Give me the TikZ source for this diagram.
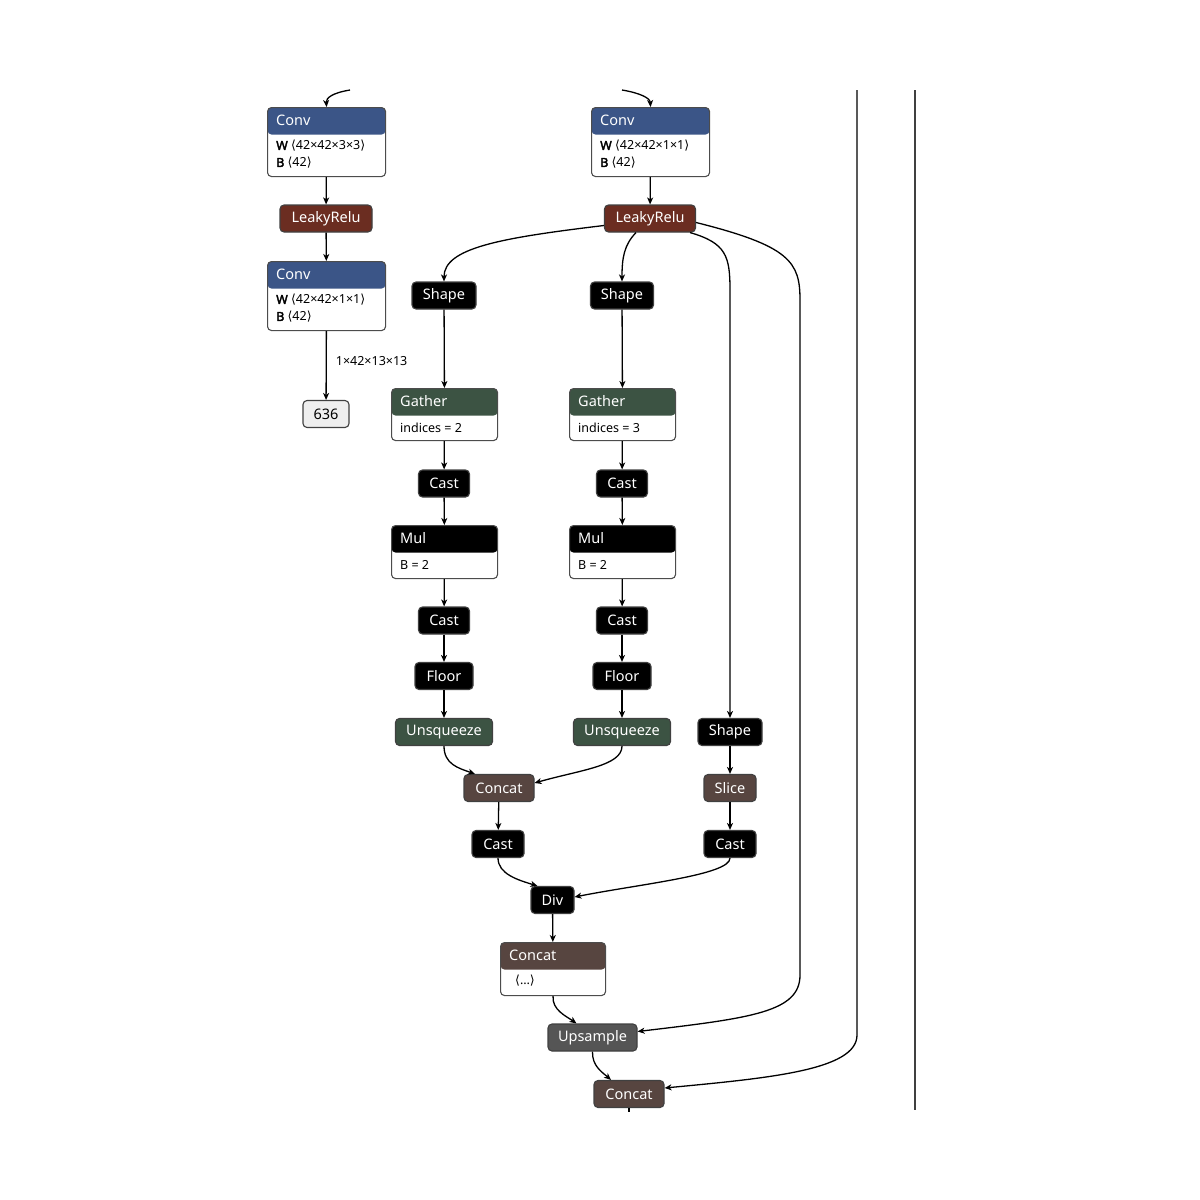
\documentclass[tikz,border=0pt]{standalone}
\usepackage{fontspec}
\setmainfont{Noto Sans}[AutoFakeBold=2.5]
\newfontfamily\brfont{DejaVu Sans}
\usetikzlibrary{arrows.meta}

\definecolor{convblue}{HTML}{3B5587}
\definecolor{relured}{HTML}{6B2D21}
\definecolor{opgreen}{HTML}{3C5343}
\definecolor{catbrown}{HTML}{574540}
\definecolor{upgrey}{HTML}{555555}
\definecolor{constgrey}{HTML}{EEEEEE}

\tikzset{
  op/.style={rectangle, rounded corners=4pt, draw=black!75, line width=1.1pt,
    minimum height=27pt, inner sep=0pt, text=white, font=\fontsize{14.5}{16}\selectfont},
  card/.style={rectangle, rounded corners=4pt, draw=black!70, line width=1.1pt,
    fill=white, anchor=north west, inner sep=0pt,
    path picture={\fill[#1] (path picture bounding box.north west) rectangle
      ([yshift=-27pt]path picture bounding box.north east);}},
  title/.style={anchor=west, inner sep=0pt, text=white, font=\fontsize{14.5}{16}\selectfont},
  attr/.style={anchor=west, inner sep=0pt, font=\fontsize{12.5}{14}\selectfont},
  edge/.style={-{Stealth[length=7pt,width=6pt,inset=2pt]}, line width=1.3pt},
}

\begin{document}
\begin{tikzpicture}[x=1pt, y=-1pt]
  \useasboundingbox (0,0) rectangle (1200,1200);

  % left branch
  \node[card=convblue, minimum width=118pt, minimum height=69pt] (conva) at (267,107) {};
  \node[title] (conva-t) at ([xshift=9pt,yshift=-13.5pt]conva.north west) {Conv};
  \node[attr] (conva-w) at ([xshift=9pt,yshift=-39pt]conva.north west) {\textbf{W} {\brfont ⟨}42×42×3×3{\brfont ⟩}};
  \node[attr] (conva-b) at ([xshift=9pt,yshift=-56pt]conva.north west) {\textbf{B} {\brfont ⟨}42{\brfont ⟩}};
  \node[op, fill=relured, minimum width=92pt] (lrelua) at (326,218.5) {LeakyRelu};
  \node[card=convblue, minimum width=118pt, minimum height=69pt] (convc) at (267,261) {};
  \node[title] (convc-t) at ([xshift=9pt,yshift=-13.5pt]convc.north west) {Conv};
  \node[attr] (convc-w) at ([xshift=9pt,yshift=-39pt]convc.north west) {\textbf{W} {\brfont ⟨}42×42×1×1{\brfont ⟩}};
  \node[attr] (convc-b) at ([xshift=9pt,yshift=-56pt]convc.north west) {\textbf{B} {\brfont ⟨}42{\brfont ⟩}};
  \node[op, fill=constgrey, text=black, minimum width=46pt] (out636) at (326,414) {636};

  % right branch
  \node[card=convblue, minimum width=118pt, minimum height=69pt] (convb) at (591,107) {};
  \node[title] (convb-t) at ([xshift=9pt,yshift=-13.5pt]convb.north west) {Conv};
  \node[attr] (convb-w) at ([xshift=9pt,yshift=-39pt]convb.north west) {\textbf{W} {\brfont ⟨}42×42×1×1{\brfont ⟩}};
  \node[attr] (convb-b) at ([xshift=9pt,yshift=-56pt]convb.north west) {\textbf{B} {\brfont ⟨}42{\brfont ⟩}};
  \node[op, fill=relured, minimum width=91pt] (lrelub) at (650,218.5) {LeakyRelu};

  \node[op, fill=black, minimum width=64pt] (shapea) at (444,295.5) {Shape};
  \node[op, fill=black, minimum width=63pt] (shapeb) at (622,295.5) {Shape};

  \node[card=opgreen, minimum width=106pt, minimum height=52pt] (gathera) at (391,388) {};
  \node[title] (gathera-t) at ([xshift=9pt,yshift=-13.5pt]gathera.north west) {Gather};
  \node[attr] (gathera-i) at ([xshift=9pt,yshift=-40pt]gathera.north west) {indices = 2};
  \node[card=opgreen, minimum width=106pt, minimum height=52pt] (gatherb) at (569,388) {};
  \node[title] (gatherb-t) at ([xshift=9pt,yshift=-13.5pt]gatherb.north west) {Gather};
  \node[attr] (gatherb-i) at ([xshift=9pt,yshift=-40pt]gatherb.north west) {indices = 3};

  \node[op, fill=black, minimum width=51pt] (casta) at (444,483.5) {Cast};
  \node[op, fill=black, minimum width=51pt] (castb) at (622,483.5) {Cast};

  \node[card=black, minimum width=106pt, minimum height=53pt] (mula) at (391,525) {};
  \node[title] (mula-t) at ([xshift=9pt,yshift=-13.5pt]mula.north west) {Mul};
  \node[attr] (mula-b) at ([xshift=9pt,yshift=-40pt]mula.north west) {B = 2};
  \node[card=black, minimum width=106pt, minimum height=53pt] (mulb) at (569,525) {};
  \node[title] (mulb-t) at ([xshift=9pt,yshift=-13.5pt]mulb.north west) {Mul};
  \node[attr] (mulb-b) at ([xshift=9pt,yshift=-40pt]mulb.north west) {B = 2};

  \node[op, fill=black, minimum width=51pt] (castc) at (444,620.5) {Cast};
  \node[op, fill=black, minimum width=51pt] (castd) at (622,620.5) {Cast};
  \node[op, fill=black, minimum width=58pt] (floora) at (444,676) {Floor};
  \node[op, fill=black, minimum width=58pt] (floorb) at (622,676) {Floor};
  \node[op, fill=opgreen, minimum width=97pt] (unsqa) at (444,732) {Unsqueeze};
  \node[op, fill=opgreen, minimum width=97pt] (unsqb) at (622,732) {Unsqueeze};
  \node[op, fill=black, minimum width=64pt] (shapec) at (730,732) {Shape};

  \node[op, fill=catbrown, minimum width=70pt] (concata) at (499,788) {Concat};
  \node[op, fill=catbrown, minimum width=52pt] (slicea) at (730,788) {Slice};
  \node[op, fill=black, minimum width=52pt] (caste) at (498,844) {Cast};
  \node[op, fill=black, minimum width=52pt] (castf) at (730,844) {Cast};
  \node[op, fill=black, minimum width=43pt] (diva) at (552.5,900) {Div};

  \node[card=catbrown, minimum width=105pt, minimum height=53pt] (concatb) at (500,942) {};
  \node[title] (concatb-t) at ([xshift=9pt,yshift=-13.5pt]concatb.north west) {Concat};
  \node[attr] (concatb-a) at ([xshift=15pt,yshift=-39pt]concatb.north west) {{\brfont ⟨}…{\brfont ⟩}};

  \node[op, fill=upgrey, minimum width=89pt] (upsa) at (592.5,1037.5) {Upsample};
  \node[op, fill=catbrown, minimum width=70pt] (concatc) at (629,1094) {Concat};

  % loose ends
  \coordinate (ina) at (350,90);
  \coordinate (inb) at (622,90);
  \coordinate (inc) at (857,90);
  \coordinate (outc) at (629,1112);
  \coordinate (railtop) at (915,90);
  \coordinate (railbot) at (915,1110);

  % edges
  \draw[edge] (ina) .. controls (332,93) and (326,98) .. (conva.north);
  \draw[edge] (inb) .. controls (640,93) and (650,98) .. (convb.north);
  \draw[edge] (conva) -- (lrelua);
  \draw[edge] (lrelua) -- (convc);
  \draw[edge] (convc) -- node[attr, anchor=west, xshift=9pt, yshift=4pt] (shapelbl) {1×42×13×13} (out636);
  \draw[edge] (convb) -- (lrelub);
  \draw[edge] ([yshift=-7pt]lrelub.west) .. controls (500,238) and (444,248) .. (shapea.north);
  \draw[edge] ([xshift=-14pt]lrelub.south) .. controls (624,245) and (622,258) .. (shapeb.north);
  \draw[edge] ([xshift=40pt]lrelub.south) .. controls (726,243) and (730,256) .. (730,290) -- (shapec.north);
  \draw[edge] ([yshift=-4pt]lrelub.east) .. controls (790,246) and (800,262) .. (800,300)
    -- (800,975) .. controls (800,1012) and (752,1018) .. ([yshift=6pt]upsa.east);
  \draw[edge] (inc) -- (857,1035) .. controls (857,1070) and (770,1078) .. ([yshift=6pt]concatc.east);
  \draw[edge] (shapea) -- (gathera);
  \draw[edge] (shapeb) -- (gatherb);
  \draw[edge] (gathera) -- (casta);
  \draw[edge] (gatherb) -- (castb);
  \draw[edge] (casta) -- (mula);
  \draw[edge] (castb) -- (mulb);
  \draw[edge] (mula) -- (castc);
  \draw[edge] (mulb) -- (castd);
  \draw[edge] (castc) -- (floora);
  \draw[edge] (castd) -- (floorb);
  \draw[edge] (floora) -- (unsqa);
  \draw[edge] (floorb) -- (unsqb);
  \draw[edge] (unsqa.south) .. controls (444,764) and (458,768) .. ([xshift=-24pt]concata.north);
  \draw[edge] (unsqb.south) .. controls (622,766) and (580,770) .. ([yshift=5pt]concata.east);
  \draw[edge] (shapec) -- (slicea);
  \draw[edge] (concata) -- (caste);
  \draw[edge] (slicea) -- (castf);
  \draw[edge] (caste.south) .. controls (498,874) and (518,880) .. ([xshift=-15pt]diva.north);
  \draw[edge] (castf.south) .. controls (730,875) and (640,884) .. ([yshift=3pt]diva.east);
  \draw[edge] (diva) -- (concatb);
  \draw[edge] (concatb.south) .. controls (552,1010) and (566,1016) .. ([xshift=-16pt]upsa.north);
  \draw[edge] (upsa.south) .. controls (592,1066) and (602,1072) .. ([xshift=-18pt]concatc.north);
  \draw[line width=1.3pt] (concatc) -- (outc);
  \draw[draw=black!75, line width=1.6pt] (railtop) -- (railbot);
\end{tikzpicture}
\end{document}
